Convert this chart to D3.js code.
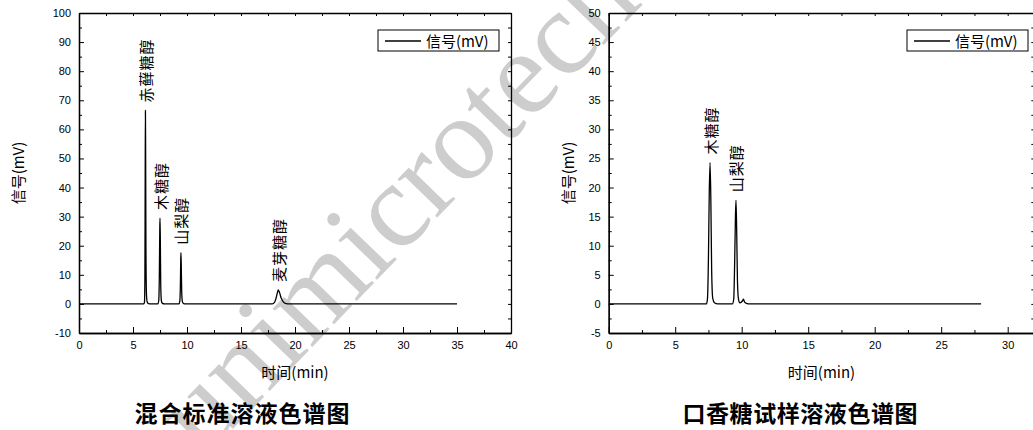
<!DOCTYPE html>
<html>
<head>
<meta charset="utf-8">
<script src="https://cdn.jsdelivr.net/npm/d3@7"></script>
<style>
  body { margin: 0; background: #fff; }
  svg { display: block; }
  .tick text { font-family: "Liberation Sans", Arial, sans-serif; font-size: 11px; fill: #000; }
  .cjk { font-family: "Noto Sans CJK SC", sans-serif; }
</style>
</head>
<body>
<div id="chart"></div>
<script>
// left chromatogram: mixed standard solution
var leftTime   = [0, 6.00, 6.06, 6.10, 6.13, 6.15, 6.17, 6.20, 6.25, 6.32, 6.45, 6.60,
                  7.30, 7.38, 7.44, 7.48, 7.50, 7.53, 7.57, 7.63, 7.72, 7.90,
                  9.25, 9.33, 9.39, 9.42, 9.44, 9.47, 9.51, 9.57, 9.66, 9.85,
                  17.90, 18.10, 18.25, 18.38, 18.45, 18.58, 18.72, 18.90, 19.10, 19.50, 35];
var leftSignal = [0, 0, 0.5, 8, 45, 66.5, 52, 18, 3, 0.6, 0.1, 0,
                  0, 1, 10, 26, 29.5, 22, 6, 1, 0.2, 0,
                  0, 0.8, 7, 15, 17.6, 13, 4, 0.8, 0.2, 0,
                  0, 0.5, 2, 4, 4.8, 3.8, 2, 0.8, 0.2, 0, 0];
var leftPeakNames = ["赤藓糖醇", "木糖醇", "山梨醇", "麦芽糖醇"];
var leftPeakTime  = [6.15, 7.5, 9.44, 18.45];
var leftPeakValue = [66.5, 29.5, 17.6, 4.8];
var leftXTicks = [0, 5, 10, 15, 20, 25, 30, 35, 40];
var leftYTicks = [-10, 0, 10, 20, 30, 40, 50, 60, 70, 80, 90, 100];

// right chromatogram: chewing gum sample
var rightTime   = [0, 7.35, 7.43, 7.50, 7.56, 7.62, 7.68, 7.74, 7.82, 7.95, 8.20,
                   9.30, 9.40, 9.47, 9.53, 9.57, 9.62, 9.68, 9.76, 9.86, 9.97,
                   10.05, 10.13, 10.22, 10.35, 10.60, 28];
var rightSignal = [0, 0, 1, 8, 19, 24.3, 18, 6, 1, 0.2, 0,
                   0, 0.8, 7, 15, 17.8, 13, 4, 0.8, 0.2, 0.3,
                   0.5, 0.8, 0.3, 0.1, 0, 0];
var rightPeakNames = ["木糖醇", "山梨醇"];
var rightPeakTime  = [7.62, 9.57];
var rightPeakValue = [24.3, 17.8];
var rightXTicks = [0, 5, 10, 15, 20, 25, 30];
var rightYTicks = [-5, 0, 5, 10, 15, 20, 25, 30, 35, 40, 45, 50];

var seriesName = "信号(mV)";
var xTitle = "时间(min)";
var yTitle = "信号(mV)";
var leftTitle = "混合标准溶液色谱图";
var rightTitle = "口香糖试样溶液色谱图";

var svg = d3.select("#chart").append("svg")
    .attr("width", 1033)
    .attr("height", 430);

// watermark behind the charts
svg.append("text")
    .attr("transform", "translate(204,459) rotate(-46)")
    .attr("font-family", "Liberation Serif, serif")
    .attr("font-size", 120)
    .attr("fill", "#cdcdcd")
    .text("unimicrotech");

function plain(d) { return String(d); }   // keep ascii hyphen for negatives

function drawChart(opt) {
    var x = d3.scaleLinear().domain(opt.xDomain).range([opt.left, opt.right]);
    var y = d3.scaleLinear().domain(opt.yDomain).range([333, 13]);
    var g = svg.append("g");

    var xMinor = opt.xTicks.slice(0, -1).map(function (d, i) { return (d + opt.xTicks[i + 1]) / 2; });
    var yMinor = opt.yTicks.slice(0, -1).map(function (d, i) { return (d + opt.yTicks[i + 1]) / 2; });
    // extra minor tick past the last major if the axis continues
    if (opt.xDomain[1] > opt.xTicks[opt.xTicks.length - 1]) xMinor.push(opt.xTicks[opt.xTicks.length - 1] + 2.5);

    /* AXIS */
    g.append("g").attr("transform", "translate(0,333)")
        .call(d3.axisBottom(x).tickValues(opt.xTicks).tickFormat(plain).tickSizeInner(-6).tickSizeOuter(0).tickPadding(8));
    g.append("g").attr("transform", "translate(0,333)")
        .call(d3.axisBottom(x).tickValues(xMinor).tickSizeInner(-3).tickSizeOuter(0).tickFormat(""));
    g.append("g").attr("transform", "translate(" + opt.left + ",0)")
        .call(d3.axisLeft(y).tickValues(opt.yTicks).tickFormat(plain).tickSizeInner(-5).tickSizeOuter(0).tickPadding(8));
    g.append("g").attr("transform", "translate(" + opt.left + ",0)")
        .call(d3.axisLeft(y).tickValues(yMinor).tickSizeInner(-3).tickSizeOuter(0).tickFormat(""));
    // top and right frame with inward ticks
    g.append("g").attr("transform", "translate(0,13)")
        .call(d3.axisTop(x).tickValues(opt.xTicks.concat(xMinor)).tickSizeInner(-3).tickSizeOuter(0).tickFormat(""));
    g.append("g").attr("transform", "translate(" + opt.right + ",0)")
        .call(d3.axisRight(y).tickValues(opt.yTicks.concat(yMinor)).tickSizeInner(-3).tickSizeOuter(0).tickFormat(""));

    g.selectAll(".domain").attr("stroke", "#000").attr("stroke-width", 1.3);
    g.selectAll(".tick line").attr("stroke", "#000").attr("stroke-width", 1);

    // trace
    var pts = opt.time.map(function (t, i) { return [t, opt.signal[i]]; });
    var line = d3.line()
        .x(function (d) { return x(d[0]); })
        .y(function (d) { return y(d[1]); })
        .curve(d3.curveMonotoneX);
    g.append("path")
        .datum(pts)
        .attr("fill", "none")
        .attr("stroke", "#000")
        .attr("stroke-width", 1.3)
        .attr("d", line);

    // peak labels
    opt.names.forEach(function (name, i) {
        var px = x(opt.peakTime[i]),
            py = y(opt.peakValue[i]) - 8;
        g.append("text")
            .attr("class", "cjk")
            .attr("transform", "translate(" + px + "," + py + ") rotate(-90)")
            .attr("dominant-baseline", "central")
            .attr("font-size", 15)
            .attr("letter-spacing", 1)
            .attr("fill", "#000")
            .text(name);
    });

    // legend
    var lx = opt.legendX;
    g.append("rect")
        .attr("x", lx).attr("y", 30).attr("width", 121).attr("height", 21)
        .attr("fill", "#fff").attr("stroke", "#000").attr("stroke-width", 1);
    g.append("line")
        .attr("x1", lx + 7).attr("x2", lx + 43).attr("y1", 41).attr("y2", 41)
        .attr("stroke", "#000").attr("stroke-width", 1.3);
    g.append("text")
        .attr("class", "cjk")
        .attr("x", lx + 48).attr("y", 46.5)
        .attr("font-size", 15)
        .text(seriesName);

    // titles
    g.append("text")
        .attr("class", "cjk")
        .attr("x", (opt.left + opt.xEnd) / 2).attr("y", 378)
        .attr("text-anchor", "middle")
        .attr("font-size", 15)
        .text(xTitle);
    g.append("text")
        .attr("class", "cjk")
        .attr("transform", "translate(" + opt.yTitleX + ",173) rotate(-90)")
        .attr("text-anchor", "middle")
        .attr("dominant-baseline", "central")
        .attr("font-size", 15)
        .text(yTitle);
    g.append("text")
        .attr("class", "cjk")
        .attr("x", opt.titleX).attr("y", 422)
        .attr("text-anchor", "middle")
        .attr("font-size", 23)
        .attr("font-weight", "bold")
        .attr("textLength", opt.titleLen)
        .text(opt.title);
}

drawChart({
    xDomain: [0, 40], yDomain: [-10, 100],
    left: 79, right: 511, xEnd: 511,
    xTicks: leftXTicks, yTicks: leftYTicks,
    time: leftTime, signal: leftSignal,
    names: leftPeakNames, peakTime: leftPeakTime, peakValue: leftPeakValue,
    legendX: 378, yTitleX: 17,
    title: leftTitle, titleX: 242, titleLen: 215
});

drawChart({
    xDomain: [0, 32], yDomain: [-5, 50],
    left: 608.7, right: 1034.3, xEnd: 1034.3,
    xTicks: rightXTicks, yTicks: rightYTicks,
    time: rightTime, signal: rightSignal,
    names: rightPeakNames, peakTime: rightPeakTime, peakValue: rightPeakValue,
    legendX: 907, yTitleX: 567,
    title: rightTitle, titleX: 800, titleLen: 235
});
</script>
</body>
</html>
